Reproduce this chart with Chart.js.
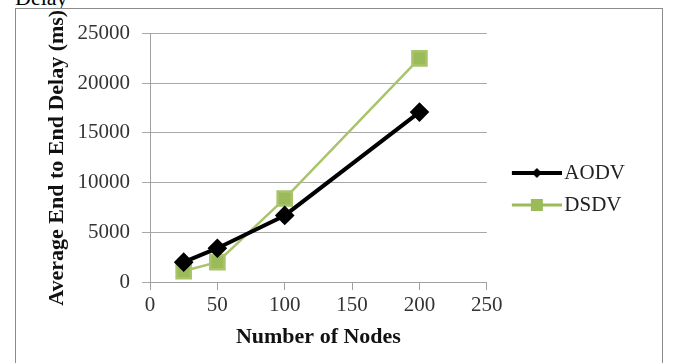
<!DOCTYPE html>
<html>
<head>
<meta charset="utf-8">
<script src="https://cdn.jsdelivr.net/npm/chart.js@4"></script>
<style>
  html, body { margin:0; padding:0; width:673px; height:363px; overflow:hidden; background:#fff; }
  #cap { position:absolute; left:15px; top:-15px; font-family:"Liberation Serif", serif; font-size:22px; color:#000; }
  #box { position:absolute; left:15px; top:8px; width:648px; height:392px; border:1px solid #8c8c8c; box-sizing:border-box; background:#fff; }
  #c { position:absolute; left:0; top:0; }
</style>
</head>
<body>
<div id="cap">Delay</div>
<div id="box"><canvas id="c" width="646" height="390"></canvas></div>
<script>
const nodes = [25, 50, 100, 200];
const aodv = [2000, 3400, 6700, 17100];
const dsdv = [1100, 2000, 8400, 22500];
const seriesNames = ['AODV', 'DSDV'];
const xTitle = 'Number of Nodes';
const yTitle = 'Average End to End Delay (ms)';

function legendIcon(color, style, lw, r) {
  const cv = document.createElement('canvas');
  cv.width = 72; cv.height = 20;
  const g = cv.getContext('2d');
  g.strokeStyle = color; g.lineWidth = lw;
  g.beginPath(); g.moveTo(22, 10); g.lineTo(72, 10); g.stroke();
  g.fillStyle = color;
  if (style === 'diamond') {
    g.beginPath(); g.moveTo(47, 10 - r); g.lineTo(47 + r, 10); g.lineTo(47, 10 + r); g.lineTo(47 - r, 10); g.closePath(); g.fill();
  } else {
    g.fillRect(47 - r, 10 - r, 2 * r, 2 * r);
  }
  return cv;
}
const icons = [legendIcon('#000000', 'diamond', 4, 5), legendIcon('#9bbb59', 'square', 3, 6)];

const serif = '"Liberation Serif", "Times New Roman", serif';
new Chart(document.getElementById('c'), {
  type: 'line',
  data: {
    datasets: [
      { label: seriesNames[0], data: nodes.map((x, i) => ({x, y: aodv[i]})), borderColor: '#000', backgroundColor: '#000',
        borderWidth: 4, pointStyle: 'rectRot', pointRadius: 7, pointHoverRadius: 7 },
      { label: seriesNames[1], data: nodes.map((x, i) => ({x, y: dsdv[i]})), borderColor: '#a8c46c', backgroundColor: '#9bbb59',
        borderWidth: 2.5, pointStyle: 'rect', pointRadius: 10, pointHoverRadius: 10 }
    ]
  },
  options: {
    responsive: false, animation: false,
    layout: { padding: { left: 10, top: 21, right: 27, bottom: 51 } },
    plugins: {
      tooltip: { enabled: false },
      legend: {
        position: 'right',
        labels: {
          usePointStyle: true, pointStyleWidth: 56,
          font: { family: serif, size: 21 }, color: '#222',
          padding: 11,
          generateLabels: (chart) => chart.data.datasets.map((d, i) => ({
            text: d.label, pointStyle: icons[i], datasetIndex: i, fontColor: '#222', lineWidth: 0, strokeStyle: 'transparent', fillStyle: 'transparent'
          }))
        }
      }
    },
    scales: {
      x: {
        type: 'linear', min: 0, max: 250,
        ticks: { stepSize: 50, font: { family: serif, size: 21 }, color: '#333', padding: 3 },
        grid: { drawOnChartArea: false, tickLength: 8, color: '#a0a0a0' },
        border: { color: '#a0a0a0' },
        title: { display: true, text: xTitle, font: { family: serif, size: 22, weight: 'bold' }, color: '#111', padding: { top: 0, bottom: -3 } },
        afterFit: (s) => { s.height = 66; }
      },
      y: {
        min: 0, max: 25000,
        ticks: { stepSize: 5000, font: { family: serif, size: 21 }, color: '#333', padding: 12, callback: (v) => String(v) },
        grid: { color: '#a8a8a8', tickLength: 8 },
        border: { color: '#a0a0a0' },
        title: { display: true, text: yTitle, font: { family: serif, size: 22, weight: 'bold' }, color: '#111', padding: { top: 18, bottom: 0 } },
        afterFit: (s) => { s.width = 124; }
      }
    }
  }
});
</script>
</body>
</html>
